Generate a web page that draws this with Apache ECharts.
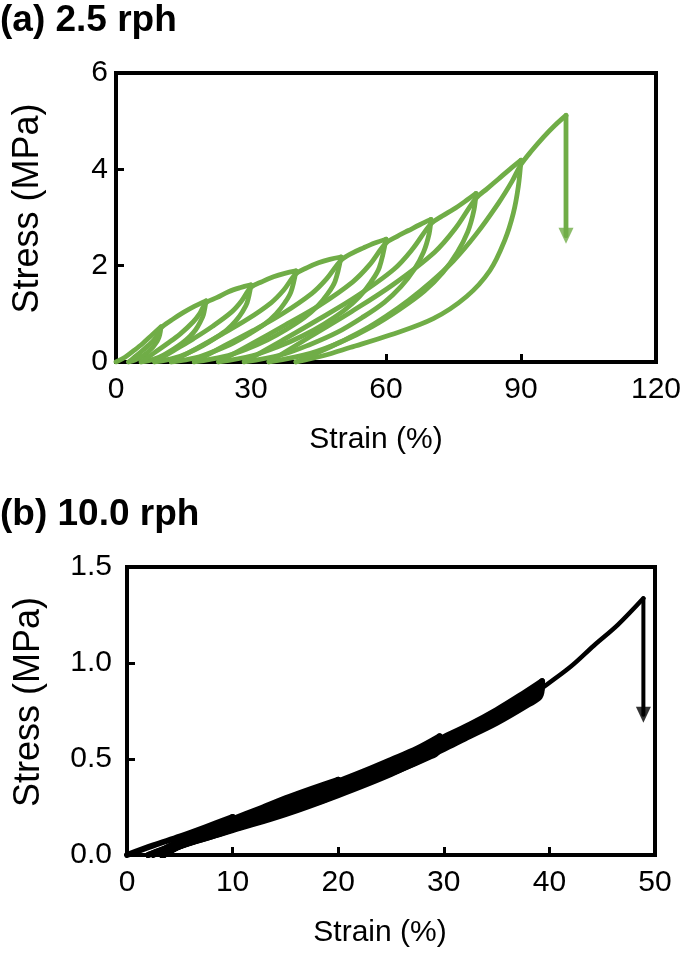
<!DOCTYPE html>
<html><head><meta charset="utf-8">
<script src="https://cdn.jsdelivr.net/npm/echarts@6/dist/echarts.min.js"></script>
<style>html,body{margin:0;padding:0;background:#fff}#c{width:685px;height:954px}</style>
</head><body><div id="c"></div>
<script>
// ---------- Panel (a) 2.5 rph : cyclic loops (strain %, stress MPa) ----------
const aTitle = '(a) 2.5 rph';
const aXTicks = [0, 30, 60, 90, 120];
const aYTicks = [0, 2, 4, 6];
const aLoad1 = [[0,0],[2,0.1],[4,0.24],[6,0.39],[8,0.56],[10,0.73]];
const aUnload1 = [[10,0.73],[9.71,0.56],[9.35,0.47],[8.85,0.39],[8.2,0.31],[7.34,0.23],[6.4,0.15],[5.32,0.09],[4.24,0.04],[2.8,0]];
const aLoad2 = [[2.8,0],[4.24,0.11],[5.68,0.22],[7.12,0.34],[8.56,0.47],[9.28,0.58],[10,0.71],[12.5,0.88],[15,1.03],[17.5,1.16],[20,1.27]];
const aUnload2 = [[20,1.27],[19.42,0.98],[18.7,0.83],[17.7,0.67],[16.4,0.53],[14.67,0.39],[12.8,0.27],[10.64,0.15],[8.48,0.06],[5.6,0]];
const aLoad3 = [[5.6,0],[8.48,0.19],[11.36,0.38],[14.24,0.58],[17.12,0.83],[18.56,1.0],[20,1.23],[22.5,1.34],[25,1.46],[27.5,1.54],[30,1.6]];
const aUnload3 = [[30,1.6],[29.14,1.23],[28.07,1.04],[26.58,0.85],[24.65,0.67],[22.08,0.5],[19.3,0.34],[16.09,0.19],[12.88,0.08],[8.6,0]];
const aLoad4 = [[8.6,0],[12.88,0.24],[17.16,0.48],[21.44,0.74],[25.72,1.04],[27.86,1.26],[30,1.55],[32.5,1.67],[35,1.77],[37.5,1.84],[40,1.89]];
const aUnload4 = [[40,1.89],[38.89,1.46],[37.51,1.23],[35.57,1.0],[33.08,0.79],[29.75,0.59],[26.15,0.4],[22.0,0.23],[17.84,0.09],[12.3,0]];
const aLoad5 = [[12.3,0],[17.84,0.28],[23.38,0.57],[28.92,0.87],[34.46,1.23],[37.23,1.49],[40,1.83],[42.5,1.96],[45,2.06],[47.5,2.13],[50,2.18]];
const aUnload5 = [[50,2.18],[48.7,1.68],[47.07,1.42],[44.78,1.16],[41.85,0.92],[37.94,0.68],[33.7,0.46],[28.81,0.26],[23.92,0.11],[17.4,0]];
const aLoad6 = [[17.4,0],[23.92,0.33],[30.44,0.65],[36.96,1.0],[43.48,1.42],[46.74,1.72],[50,2.11],[52.5,2.26],[55,2.37],[57.5,2.47],[60,2.55]];
const aUnload6 = [[60,2.55],[58.51,1.96],[56.65,1.66],[54.05,1.35],[50.7,1.07],[46.24,0.79],[41.4,0.54],[35.82,0.31],[30.24,0.13],[22.8,0]];
const aLoad7 = [[22.8,0],[30.24,0.38],[37.68,0.77],[45.12,1.17],[52.56,1.66],[56.28,2.01],[60,2.47],[62.5,2.61],[65,2.73],[67.5,2.85],[70,2.96]];
const aUnload7 = [[70,2.96],[69.58,2.66],[68.34,2.28],[66.27,1.92],[63.36,1.57],[59.63,1.24],[54.65,0.92],[49.25,0.62],[43.03,0.36],[36.8,0.15],[28.5,0]];
const aLoad8 = [[28.5,0],[36.8,0.44],[45.1,0.89],[53.4,1.36],[61.7,1.92],[65.85,2.34],[70,2.87],[72.5,3.03],[75,3.17],[77.5,3.33],[80,3.5]];
const aUnload8 = [[80,3.5],[79.54,3.15],[78.16,2.7],[75.86,2.28],[72.64,1.86],[68.5,1.47],[62.98,1.09],[57,0.74],[50.1,0.42],[43.2,0.18],[34,0]];
const aLoad9 = [[34,0],[43.2,0.53],[52.4,1.05],[61.6,1.61],[70.8,2.28],[75.4,2.77],[80,3.4],[82.5,3.6],[85,3.8],[87.5,4.0],[90,4.19]];
const aUnload9 = [[90,4.19],[89.4,3.64],[88.3,3.09],[86.4,2.53],[83.1,1.9],[77.9,1.36],[70.5,0.9],[60.9,0.56],[52,0.3],[46,0.13],[40,0]];
const aFinal = [[40,0],[45,0.2],[50,0.42],[55,0.66],[60,0.95],[65,1.28],[70,1.66],[75,2.1],[80,2.65],[85,3.3],[88,3.75],[90,4.1],[92.5,4.4],[95,4.67],[97.5,4.91],[100,5.12]];
const aBreak = [[100,5.12],[100,2.62]];
const aArrowHead = [[100,2.62]];

// ---------- Panel (b) 10.0 rph ----------
const bTitle = '(b) 10.0 rph';
const bXTicks = [0, 10, 20, 30, 40, 50];
const bYTicks = [0, 0.5, 1.0, 1.5];
const bL1a = [[0,0],[2.5,0.05],[5,0.096],[7.5,0.146],[10,0.198]];
const bU1a = [[10,0.198],[9.8,0.15],[9,0.13],[7,0.095],[5,0.062],[3,0.022],[2,0]];
const bL1b = [[2,0],[4,0.04],[6,0.08],[8,0.125],[10,0.185]];
const bU1b = [[10,0.185],[9.8,0.14],[9,0.118],[7,0.084],[5,0.046],[3.4,0]];
const bL2a = [[2.5,0],[5,0.075],[7.5,0.132],[10,0.186],[12.5,0.24],[15,0.295],[17.5,0.345],[20,0.392]];
const bU2a = [[20,0.392],[19.8,0.33],[19,0.305],[17,0.27],[15,0.235],[12.5,0.19],[10,0.148],[7.5,0.1],[5,0.055],[3.3,0]];
const bL2b = [[3.3,0],[5,0.05],[7.5,0.11],[10,0.165],[12.5,0.22],[15,0.27],[17.5,0.325],[20,0.375]];
const bU2b = [[20,0.375],[19.8,0.32],[19,0.294],[17,0.255],[15,0.217],[12.5,0.175],[10,0.133],[7.5,0.088],[5,0.046],[3.5,0]];
const bL3a = [[3.3,0],[5,0.058],[10,0.176],[15,0.283],[20,0.383],[22.5,0.437],[25,0.495],[27.5,0.555],[29.6,0.618]];
const bU3a = [[29.6,0.618],[29.4,0.55],[28.5,0.525],[26,0.47],[23,0.405],[20,0.34],[15,0.24],[10,0.148],[5,0.055],[3.4,0]];
const bL3b = [[3.4,0],[5,0.05],[10,0.158],[15,0.262],[20,0.362],[25,0.47],[27.5,0.53],[29.6,0.595]];
const bU3b = [[29.6,0.595],[29.4,0.535],[28.5,0.508],[26,0.448],[23,0.383],[20,0.318],[15,0.221],[10,0.133],[5,0.046],[3.5,0]];
const bL4a = [[3.4,0],[5,0.055],[10,0.165],[15,0.272],[20,0.376],[25,0.484],[30,0.614],[32.5,0.68],[35,0.755],[37.5,0.84],[39.3,0.905]];
const bU4a = [[39.3,0.905],[39.1,0.84],[38,0.8],[35,0.715],[32,0.635],[30,0.585],[25,0.455],[20,0.345],[15,0.235],[10,0.14],[5,0.05],[3.4,0]];
const bL4b = [[3.4,0],[5,0.05],[10,0.15],[15,0.25],[20,0.35],[25,0.46],[30,0.585],[35,0.725],[39.3,0.885]];
const bU4b = [[39.3,0.885],[39.1,0.825],[38,0.784],[35,0.688],[32,0.607],[30,0.552],[25,0.422],[20,0.312],[15,0.213],[10,0.129],[5,0.044],[3.5,0]];
const bFinal = [[3.4,0],[5,0.05],[10,0.145],[15,0.24],[20,0.335],[25,0.44],[30,0.56],[35,0.705],[39.3,0.87],[42,0.98],[44.2,1.09],[46.5,1.2],[48.9,1.337]];
const bBreak = [[48.9,1.337],[48.9,0.73]];
const bArrowHead = [[48.9,0.73]];

// ---------- build ----------
const GREEN = '#70AD47';
const FONT = 'Liberation Sans, Arial, sans-serif';
const aCurves = [aLoad1,aUnload1,aLoad2,aUnload2,aLoad3,aUnload3,aLoad4,aUnload4,aLoad5,aUnload5,aLoad6,aUnload6,aLoad7,aUnload7,aLoad8,aUnload8,aLoad9,aUnload9,aFinal,aBreak];
const bCurves = [bL1a,bU1a,bL1b,bU1b,bL2a,bU2a,bL2b,bU2b,bL3a,bU3a,bL3b,bU3b,bL4a,bU4a,bL4b,bU4b,bFinal,bBreak];

function lineSeries(data, idx, color, width) {
  return { type:'line', xAxisIndex:idx, yAxisIndex:idx, data:data, showSymbol:false, symbol:'none',
    smooth:0.35, silent:true, animation:false,
    lineStyle:{ color:color, width:width, cap:'round', join:'round' } };
}
const series = [];
aCurves.forEach(c => series.push(lineSeries(c, 0, GREEN, 4.8)));
bCurves.forEach(c => series.push(lineSeries(c, 1, '#000', 6)));
series[series.length-1].lineStyle.width = 4;
series[series.length-2].lineStyle.width = 4.5;
series.push({ type:'scatter', xAxisIndex:0, yAxisIndex:0, data:aArrowHead, symbol:'triangle', symbolRotate:180, symbolSize:[15,16], itemStyle:{color:GREEN}, silent:true, animation:false });
series.push({ type:'scatter', xAxisIndex:1, yAxisIndex:1, data:bArrowHead, symbol:'triangle', symbolRotate:180, symbolSize:[15,16], itemStyle:{color:'#000'}, silent:true, animation:false });

function xAx(idx, ticks, gap, pad) {
  return { gridIndex:idx, type:'value', min:ticks[0], max:ticks[ticks.length-1], interval:ticks[1]-ticks[0],
    name:'Strain (%)', nameLocation:'middle', nameGap:gap,
    nameTextStyle:{ fontSize:30, color:'#000', fontFamily:FONT, padding:[0,pad,0,0] },
    axisLine:{ show:true, onZero:false, lineStyle:{ color:'#000', width:4 } },
    axisTick:{ show:true, inside:true, length:8, lineStyle:{ color:'#000', width:3 } },
    axisLabel:{ fontSize:30, color:'#000', fontFamily:FONT, margin:13 },
    splitLine:{ show:false } };
}
function yAx(idx, ticks, fmt, gap, margin) {
  return { gridIndex:idx, type:'value', min:ticks[0], max:ticks[ticks.length-1], interval:ticks[1]-ticks[0],
    name:'Stress (MPa)', nameLocation:'middle', nameGap:gap, nameRotate:90,
    nameTextStyle:{ fontSize:36, color:'#000', fontFamily:FONT, padding:[0,0,0,18] },
    axisLine:{ show:true, onZero:false, lineStyle:{ color:'#000', width:4 } },
    axisTick:{ show:true, inside:true, length:8, lineStyle:{ color:'#000', width:3 } },
    axisLabel:{ fontSize:30, color:'#000', fontFamily:FONT, margin:margin, formatter:fmt },
    splitLine:{ show:false } };
}

const chart = echarts.init(document.getElementById('c'), null, { renderer:'canvas' });
chart.setOption({
  backgroundColor:'#fff',
  animation:false,
  title:[
    { text:aTitle, left:0, top:2, padding:0, textStyle:{ fontSize:37, fontWeight:'bold', color:'#000', fontFamily:FONT } },
    { text:bTitle, left:0, top:496, padding:0, textStyle:{ fontSize:37, fontWeight:'bold', color:'#000', fontFamily:FONT } }
  ],
  grid:[
    { left:116, top:73, width:540, height:289, show:true, borderColor:'#000', borderWidth:4, backgroundColor:'transparent' },
    { left:127, top:567, width:528, height:288, show:true, borderColor:'#000', borderWidth:4, backgroundColor:'transparent' }
  ],
  xAxis:[ xAx(0, aXTicks, 63, 20), xAx(1, bXTicks, 63, 22) ],
  yAxis:[ yAx(0, aYTicks, v => String(v), 70, 8), yAx(1, bYTicks, v => v.toFixed(1), 80, 15) ],
  series: series
});
</script></body></html>
